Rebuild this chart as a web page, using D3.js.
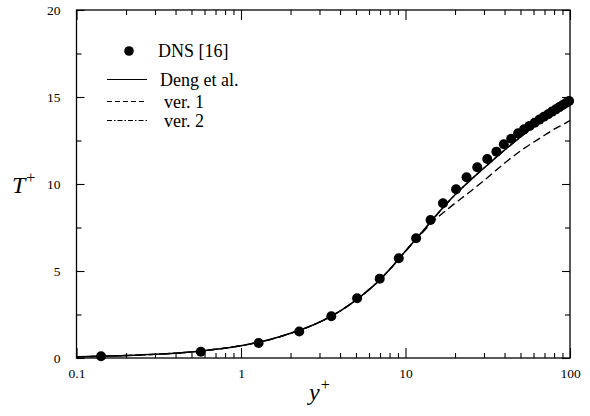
<!DOCTYPE html>
<html><head><meta charset="utf-8">
<script src="https://cdn.jsdelivr.net/npm/d3@7"></script>
<style>body{margin:0;background:#fff}svg{display:block}
svg text{font-family:"Liberation Serif","Times New Roman",Times,"DejaVu Serif",serif;}
</style>
</head><body>
<script>
// DNS data
const dnsY = [0.141,0.57,1.28,2.26,3.54,5.08,6.97,9.10,11.6,14.2,16.9,20.3,23.5,27.3,31.4,35.7,39.6,43.9,48.4,52.6,56.8,61.0,65.2,69.4,73.6,77.8,82.0,86.2,90.4,94.6,98.8];
const dnsT = [0.10,0.36,0.86,1.52,2.40,3.43,4.56,5.73,6.88,7.93,8.89,9.70,10.39,10.96,11.44,11.86,12.28,12.60,12.91,13.14,13.34,13.52,13.70,13.86,14.01,14.16,14.29,14.42,14.54,14.66,14.77];
// Deng et al. model
const dengY = [0.1,0.2,0.3,0.5,0.7,1,1.5,2,3,4,5,6,7,8,10,12,14,17.5,20,25,30,40,50,60,70,80,90,100];
const dengT = [0.07,0.14,0.21,0.35,0.5,0.71,1.06,1.42,2.06,2.7,3.33,3.93,4.5,5.08,6.15,7.0,7.75,8.8,9.38,10.25,10.92,11.95,12.7,13.3,13.8,14.2,14.52,14.8];
// ver. 1
const ver1Y = [0.1,0.2,0.3,0.5,0.7,1,1.5,2,3,4,5,6,7,8,10,12,14,18.3,25,30,41,50,60,70,80,90,100];
const ver1T = [0.07,0.14,0.21,0.35,0.5,0.71,1.06,1.42,2.06,2.7,3.33,3.93,4.5,5.08,6.12,6.95,7.65,8.6,9.6,10.2,11.28,11.9,12.4,12.8,13.15,13.4,13.64];
// ver. 2
const ver2Y = [0.1,0.2,0.3,0.5,0.7,1,1.5,2,3,4,5,6,7,8,10,12,14,17.5,20,25,30,40,50,60,70,80,90,100];
const ver2T = [0.07,0.14,0.21,0.35,0.5,0.71,1.06,1.42,2.06,2.7,3.33,3.93,4.5,5.08,6.15,7.0,7.75,8.8,9.38,10.25,10.92,11.95,12.7,13.3,13.8,14.2,14.52,14.8];

const xTickValues = [0.1,1,10,100];
const xTickLabels = ["0.1","1","10","100"];
const yTickValues = [0,5,10,15,20];
const yMinorValues = [2.5,7.5,12.5,17.5];
const legendLabels = ["DNS [16]","Deng et al.","ver. 1","ver. 2"];

const W=590,H=416;
const m={left:76.5,right:20,top:10,bottom:58};
const svg=d3.select("body").append("svg").attr("width",W).attr("height",H);
const x=d3.scaleLog().domain([0.1,100]).range([m.left,W-m.right]);
const y=d3.scaleLinear().domain([0,20]).range([H-m.bottom,m.top]);

// minor x ticks
const xMinor=[];
[0.1,1,10].forEach(d=>{for(let k=2;k<=9;k++)xMinor.push(d*k);});

const g=svg.append("g");
// frame
g.append("rect").attr("x",x(0.1)).attr("y",y(20)).attr("width",x(100)-x(0.1)).attr("height",y(0)-y(20))
 .attr("fill","none").attr("stroke","#000").attr("stroke-width",1.3);

// axes with inward ticks
const axB=d3.axisBottom(x).tickValues(xTickValues).tickFormat((d,i)=>xTickLabels[i]).tickSizeInner(-10).tickSizeOuter(0).tickPadding(14);
const axBm=d3.axisBottom(x).tickValues(xMinor).tickFormat("").tickSizeInner(-5).tickSizeOuter(0);
const axT=d3.axisTop(x).tickValues(xTickValues).tickFormat("").tickSizeInner(-10).tickSizeOuter(0);
const axTm=d3.axisTop(x).tickValues(xMinor).tickFormat("").tickSizeInner(-5).tickSizeOuter(0);
const axL=d3.axisLeft(y).tickValues(yTickValues).tickFormat(d3.format("d")).tickSizeInner(-8).tickSizeOuter(0).tickPadding(16);
const axLm=d3.axisLeft(y).tickValues(yMinorValues).tickFormat("").tickSizeInner(-5).tickSizeOuter(0);
const axR=d3.axisRight(y).tickValues(yTickValues).tickFormat("").tickSizeInner(-8).tickSizeOuter(0);
const axRm=d3.axisRight(y).tickValues(yMinorValues).tickFormat("").tickSizeInner(-5).tickSizeOuter(0);

function put(ax,tr){
  const a=g.append("g").attr("transform",tr).call(ax);
  a.attr("font-family",null);
  a.select(".domain").remove();
  a.selectAll("line").attr("stroke","#000").attr("stroke-width",1.1);
  a.selectAll("text").attr("font-size",13.5).attr("fill","#000");
  return a;
}
const bx=put(axB,`translate(0,${y(0)})`);
put(axBm,`translate(0,${y(0)})`);
put(axT,`translate(0,${y(20)})`);
put(axTm,`translate(0,${y(20)})`);
const ly=put(axL,`translate(${x(0.1)},0)`);
put(axLm,`translate(${x(0.1)},0)`);
put(axR,`translate(${x(100)},0)`);
put(axRm,`translate(${x(100)},0)`);
bx.selectAll("text").attr("dy","0.45em");
ly.selectAll("text").attr("dy","0.32em");

// lines
const line=d3.line().x(d=>x(d[0])).y(d=>y(d[1])).curve(d3.curveMonotoneX);
const zip=(a,b)=>a.map((v,i)=>[v,b[i]]);
const styles=[
  {d:zip(ver2Y,ver2T),dash:"7,3,1.5,3",w:1.4},
  {d:zip(ver1Y,ver1T),dash:"8,4",w:1.4},
  {d:zip(dengY,dengT),dash:null,w:1.5}
];
styles.forEach(s=>{
  g.append("path").attr("d",line(s.d)).attr("fill","none").attr("stroke","#000")
   .attr("stroke-width",s.w).attr("stroke-dasharray",s.dash);
});

// DNS markers
g.selectAll("circle.dns").data(zip(dnsY,dnsT)).join("circle").attr("class","dns")
 .attr("cx",d=>x(d[0])).attr("cy",d=>y(d[1])).attr("r",5).attr("fill","#000");

// legend
const lg=svg.append("g");
const lx0=107,lx1=147,ly0=[51,79.5,101.5,120.5];
lg.append("circle").attr("cx",129).attr("cy",ly0[0]).attr("r",4.8).attr("fill","#000");
lg.append("line").attr("x1",lx0).attr("x2",lx1).attr("y1",ly0[1]).attr("y2",ly0[1]).attr("stroke","#000").attr("stroke-width",1);
lg.append("line").attr("x1",lx0).attr("x2",lx1).attr("y1",ly0[2]).attr("y2",ly0[2]).attr("stroke","#000").attr("stroke-width",1).attr("stroke-dasharray","5,3");
lg.append("line").attr("x1",lx0).attr("x2",lx1).attr("y1",ly0[3]).attr("y2",ly0[3]).attr("stroke","#000").attr("stroke-width",1).attr("stroke-dasharray","5,2,1.5,2");
const textX=[158,160,164,164];
legendLabels.forEach((t,i)=>{
  lg.append("text").attr("x",textX[i]).attr("y",ly0[i]+6).attr("font-size",18).attr("fill","#000").text(t);
});

// axis titles
const tt=svg.append("text").attr("x",12).attr("y",193).attr("font-size",24).attr("font-style","italic").attr("fill","#000");
tt.append("tspan").text("T");
tt.append("tspan").attr("font-style","normal").attr("font-size",16).attr("dy",-10).attr("dx",1).text("+");
const xt=svg.append("text").attr("x",309).attr("y",400).attr("font-size",24).attr("font-style","italic").attr("fill","#000");
xt.append("tspan").text("y");
xt.append("tspan").attr("font-style","normal").attr("font-size",16).attr("dy",-10).attr("dx",1).text("+");
</script>
</body></html>
